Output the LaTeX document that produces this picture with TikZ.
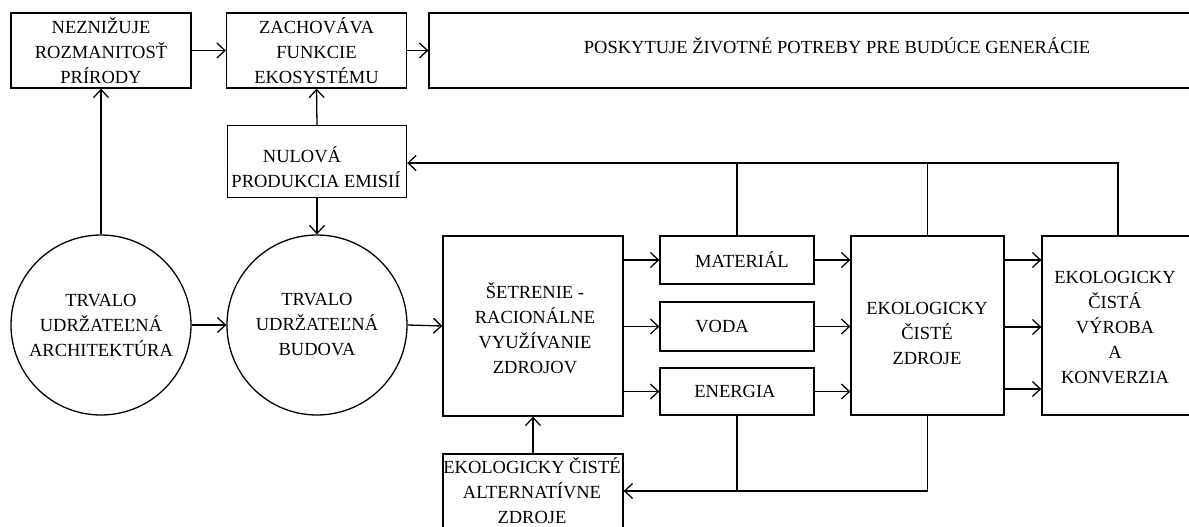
\documentclass[tikz,border=0pt]{standalone}
\usepackage{fontspec}
\setmainfont{Liberation Serif}
\usetikzlibrary{arrows.meta}
\begin{document}
\begin{tikzpicture}[x=1pt,y=-1pt,
  every node/.style={font=\fontsize{18.5}{25}\selectfont, align=center, inner sep=0pt},
  box/.style={draw, line width=1.3pt, rectangle},
  circ/.style={draw, line width=1.3pt, circle, minimum size=180pt},
  conn/.style={line width=1.3pt},
  arr/.style={conn, -{Straight Barb[length=8pt,width=15pt,line width=1.3pt]}}]
\useasboundingbox (0,0) rectangle (1189,527);
\clip (0,0) rectangle (1189,527);
% top row
\node[box, minimum width=180pt, minimum height=75pt] (nez) at (101,50.5) {NEZNIŽUJE\\ROZMANITOSŤ\\PRÍRODY};
\node[box, minimum width=180pt, minimum height=75pt] (zach) at (316.5,50.5) {ZACHOVÁVA\\FUNKCIE\\EKOSYSTÉMU};
\node[box, minimum width=766pt, minimum height=75pt] (posk) at (812,50.5) {};
\node (posktext) at (837,46) {POSKYTUJE ŽIVOTNÉ POTREBY PRE BUDÚCE GENERÁCIE};
% emissions
\node[box, minimum width=179pt, minimum height=72pt] (nul) at (317,161.5) {};
\node (nultext) at (316,167) {NULOVÁ\hspace*{28pt}\\PRODUKCIA EMISIÍ};
% circles
\node[circ] (c1) at (101,325) {TRVALO\\UDRŽATEĽNÁ\\ARCHITEKTÚRA};
\node[circ] (c2) at (317,325) {TRVALO\\UDRŽATEĽNÁ\\BUDOVA};
% middle
\node[box, minimum width=180pt, minimum height=180pt] (set) at (533,326) {};
\node (settext) at (535,328) {ŠETRENIE -\\RACIONÁLNE\\VYUŽÍVANIE\\ZDROJOV};
\node[box, minimum width=154pt, minimum height=48pt] (mat) at (737,260) {};
\node (mattext) at (742,260) {MATERIÁL};
\node[box, minimum width=154pt, minimum height=49pt] (voda) at (737,326.5) {};
\node (vodatext) at (722,327) {VODA};
\node[box, minimum width=154pt, minimum height=47pt] (ener) at (737,391.5) {};
\node (enertext) at (735,391) {ENERGIA};
\node[box, minimum width=180pt, minimum height=90pt] (alt) at (533,499) {};
\node (alttext) at (532,491) {EKOLOGICKY ČISTÉ\\ALTERNATÍVNE\\ZDROJE};
\node[box, minimum width=153pt, minimum height=179pt] (zdr) at (927.5,325.5) {};
\node (zdrtext) at (927,333) {EKOLOGICKY\\ČISTÉ\\ZDROJE};
\node[box, minimum width=153pt, minimum height=179pt] (vyr) at (1118.5,325.5) {};
\node (vyrtext) at (1115,328) {EKOLOGICKY\\ČISTÁ\\VÝROBA\\A\\KONVERZIA};
% connectors
\draw[arr] (nez.east) -- (zach.west);
\draw[arr] (zach.east) -- (posk.west);
\draw[arr] (c1.north) -- (nez.south);
\draw[arr] (nul.north) -- (zach.south);
\draw[arr] (nul.south) -- (c2.north);
\draw[arr] (c1.east) -- (c2.west);
\draw[arr] (c2.east) -- (set.west);
\draw[arr] (set.east |- mat) -- (mat.west);
\draw[arr] (set.east |- voda) -- (voda.west);
\draw[arr] (set.east |- ener) -- (ener.west);
\draw[arr] (mat.east) -- (zdr.west |- mat);
\draw[arr] (voda.east) -- (zdr.west |- voda);
\draw[arr] (ener.east) -- (zdr.west |- ener);
\coordinate (r1) at (1004,260);
\coordinate (r2) at (1004,327);
\coordinate (r3) at (1004,389);
\draw[arr] (r1) -- (vyr.west |- r1);
\draw[arr] (r2) -- (vyr.west |- r2);
\draw[arr] (r3) -- (vyr.west |- r3);
\draw[arr] (alt.north) -- (set.south);
% feedback
\coordinate (fb) at (1118,163);
\draw[arr] (vyr.north -| fb) -- (fb) -- (nul.east |- fb);
\draw[conn] (mat.north) -- (mat.north |- fb);
\draw[conn] (zdr.north) -- (zdr.north |- fb);
% bottom loop
\coordinate (bl) at (927.5,491);
\draw[arr] (zdr.south) -- (bl) -- (alt.east |- bl);
\draw[conn] (ener.south) -- (ener.south |- bl);
\end{tikzpicture}
\end{document}
